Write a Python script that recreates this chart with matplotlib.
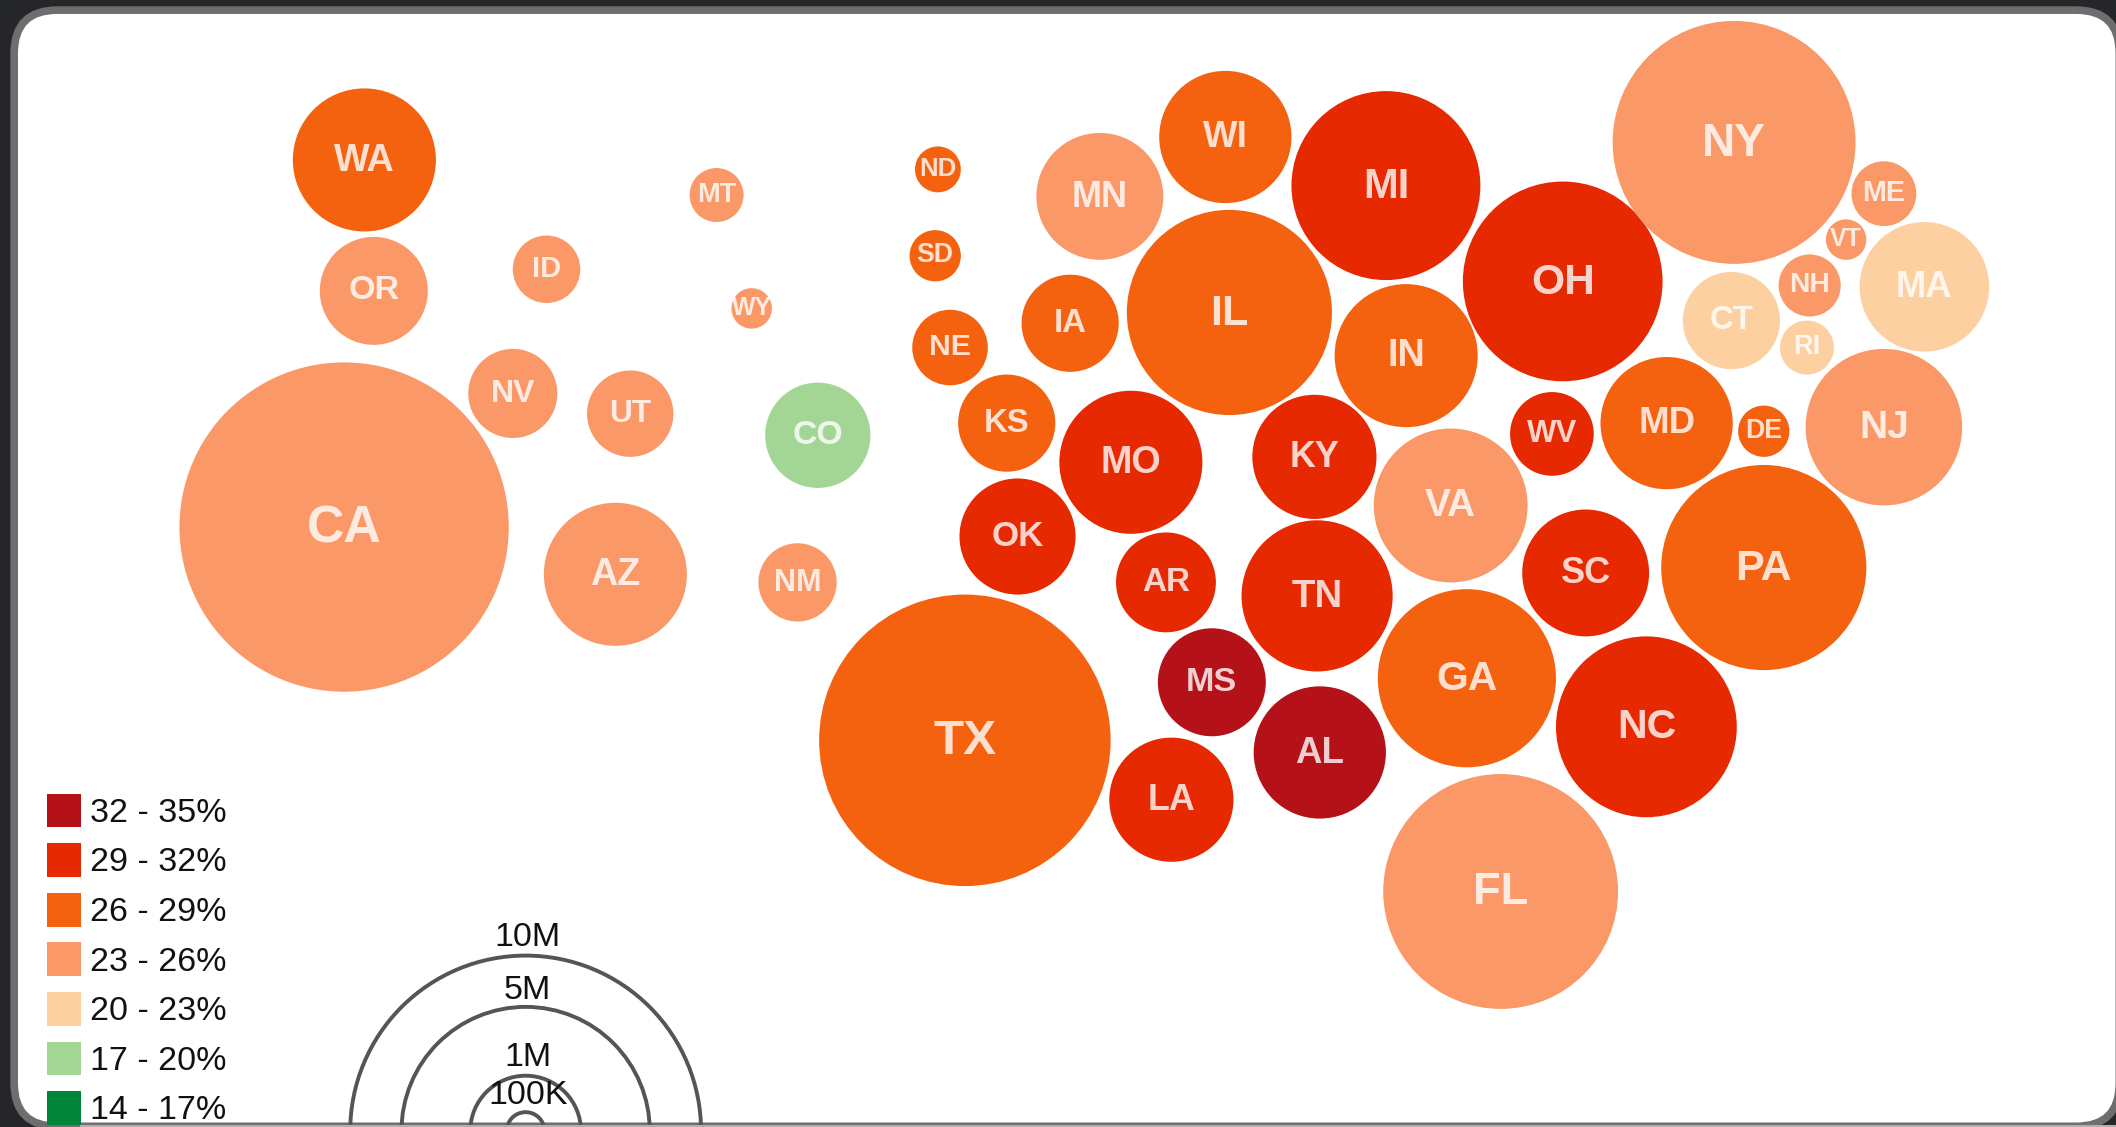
import matplotlib
matplotlib.use('Agg')
import matplotlib.pyplot as plt
from matplotlib.patches import Circle, FancyBboxPatch, Rectangle

# screen positions of the bubbles, in the 1568x835 view of the chart
states = ['WA','OR','CA','ID','NV','UT','AZ','MT','WY','CO','NM','ND','SD','NE','KS','OK',
          'TX','IA','MN','MO','AR','LA','MS','WI','IL','KY','TN','AL','MI','IN','OH','WV',
          'VA','GA','SC','NC','FL','MD','DE','PA','NJ','NY','ME','VT','NH','MA','CT','RI']
xs = [270,277,255,405,380,467,456,531,557,606,591,695,693,704,746,754,
      715,793,815,838,864,868,898,908,911,974,976,978,1027,1042,1158,1150,
      1075,1087,1175,1220,1112,1235,1307,1307,1396,1285,1396,1368,1341,1426,1283,1339]
ys = [118,215,390,199,291,306,425,144,228,322,431,125,189,257,313,397,
      548,239,145,342,431,592,505,101,231,338,441,557,137,263,208,321,
      374,502,424,538,660,313,319,420,316,105,143,177,211,212,237,257]
radii = [53,40,122,25,33,32,53,20,15,39,29,17,19,28,36,43,
         108,36,47,53,37,46,40,49,76,46,56,49,70,53,74,31,
         57,66,47,67,87,49,19,76,58,90,24,15,23,48,36,20]
# index into bin_labels
bins = [2,3,3,3,3,3,3,3,3,5,3,2,2,2,2,1,
        2,2,3,1,1,1,0,2,2,1,1,0,1,2,1,1,
        3,2,1,1,3,2,2,2,3,3,3,3,3,4,4,4]

bin_labels = ['32 - 35%','29 - 32%','26 - 29%','23 - 26%','20 - 23%','17 - 20%','14 - 17%']
bin_colors = ['#b51118','#e62900','#f46210','#fa9868','#fdd0a2','#a3d595','#00843a']

size_labels = ['10M','5M','1M','100K']
size_radii = [130,92,41,14]
size_label_y = [692,731,781,809]

fig = plt.figure(figsize=(21.16,11.27), dpi=100, facecolor='#25262a')
ax = fig.add_axes([0,0,1,1])
ax.set_xlim(0,1568)
ax.set_ylim(835,0)
ax.axis('off')

# rounded panel behind the chart
ax.add_patch(FancyBboxPatch((10.5,7.5),1560,827, boxstyle='round,pad=0,rounding_size=32',
                            fc='white', ec='#6e6e6e', lw=5.5, zorder=1))

for s,x,y,r,b in zip(states,xs,ys,radii,bins):
    ax.add_patch(Circle((x,y+0.5),r,fc=bin_colors[b],ec='none',zorder=2))
    fs = 2.7*r**0.5 + 7.5
    ax.text(x,y-2,s,color='white',alpha=0.8,fontsize=fs,fontweight='bold',family='Liberation Sans',
            ha='center',va='center_baseline',zorder=3)

for i,(lab,c) in enumerate(zip(bin_labels,bin_colors)):
    y = 588 + i*36.75
    ax.add_patch(Rectangle((35,y),25,25,fc=c,ec='none',zorder=2))
    ax.text(67,y+12,lab,color='#111111',fontsize=24.5,family='Liberation Sans',
            ha='left',va='center_baseline',zorder=3)

for lab,r,ly in zip(size_labels,size_radii,size_label_y):
    ax.add_patch(Circle((389.5,838),r,fc='none',ec='#555555',lw=2.8,zorder=2))
    ax.text(391,ly,lab,color='#111111',fontsize=24.5,family='Liberation Sans',
            ha='center',va='center_baseline',zorder=3)

# gray line along the bottom edge of the panel
ax.plot([60,1568],[834.5,834.5],color='#b0b0b0',lw=1.5,zorder=4)

fig.savefig('out.png',dpi=100,facecolor=fig.get_facecolor())
